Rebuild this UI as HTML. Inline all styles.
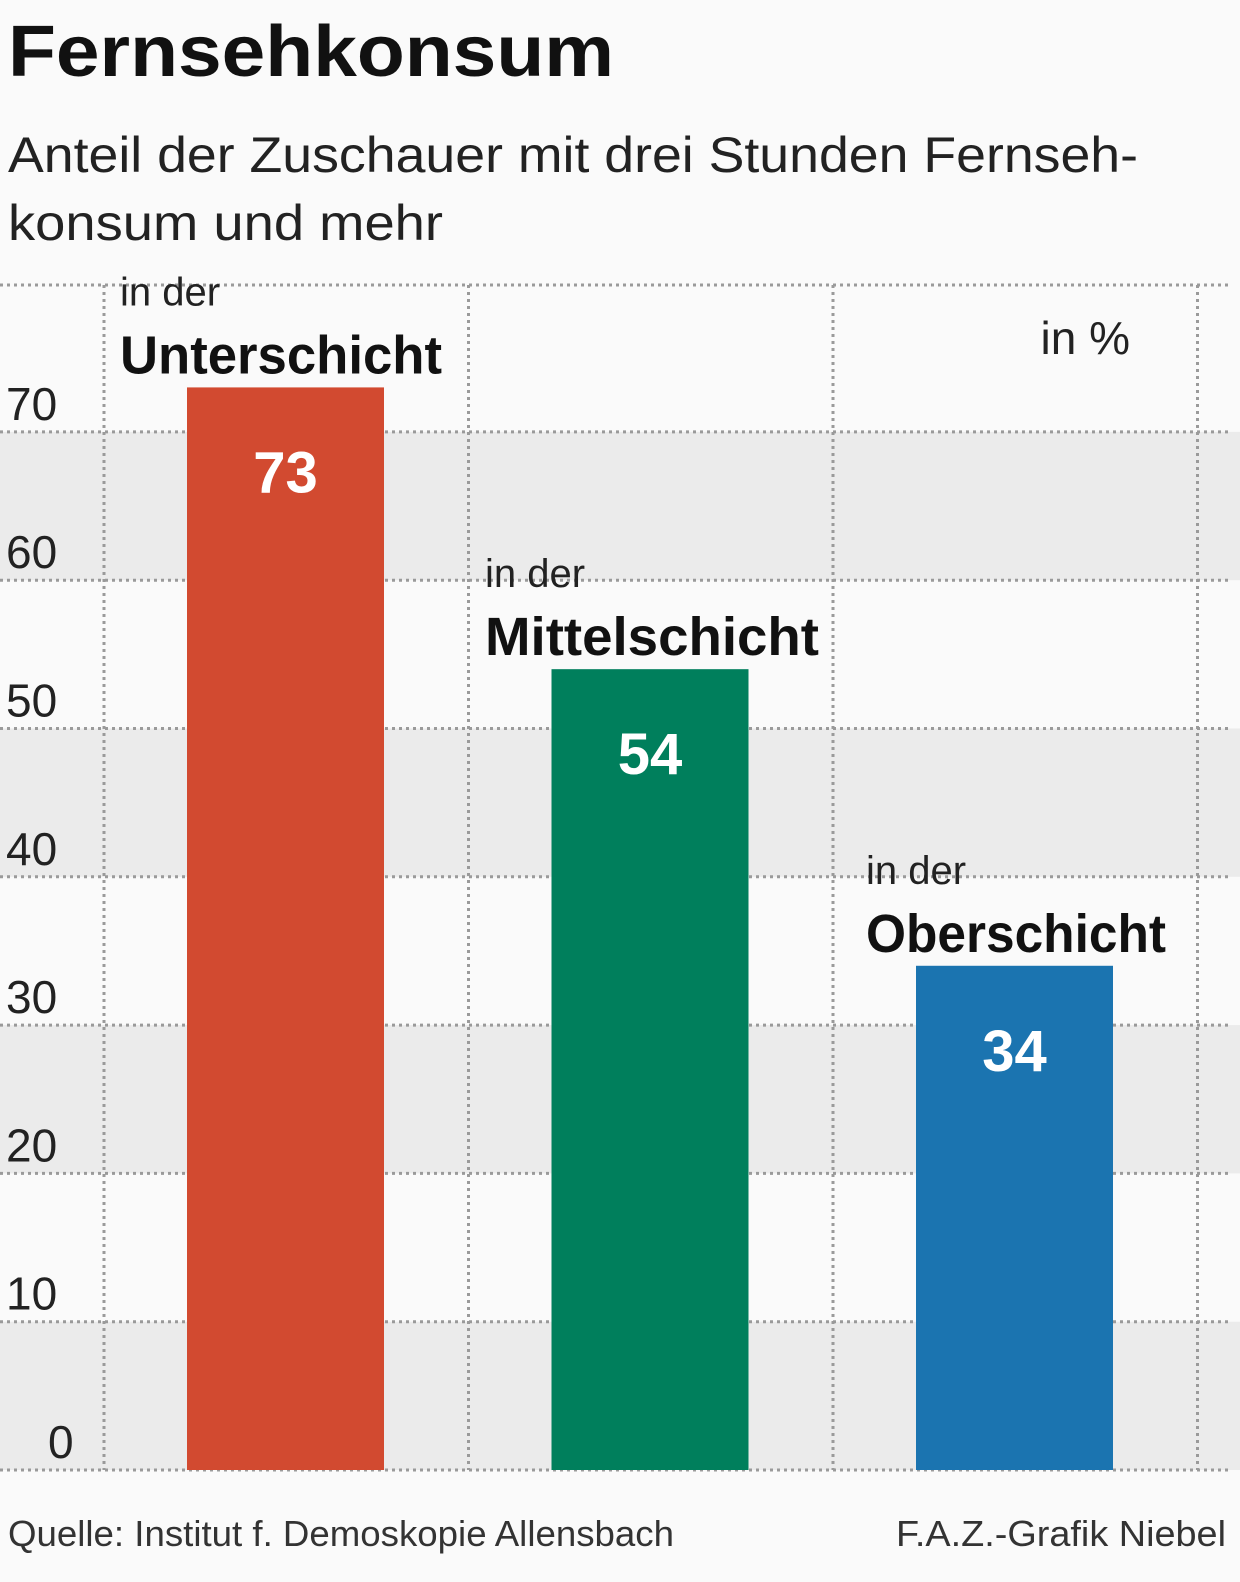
<!DOCTYPE html>
<html><head><meta charset="utf-8"><style>
body{margin:0;background:#fafafa;width:1240px;height:1577px;overflow:hidden;font-family:"Liberation Sans",sans-serif;}
</style></head><body>
<svg width="1240" height="1577" id="svg">
<text x="8" y="76" font-size="72" font-weight="bold" fill="#111" textLength="606" lengthAdjust="spacingAndGlyphs">Fernsehkonsum</text>
<text x="8" y="172" font-size="50" fill="#222" textLength="1130" lengthAdjust="spacingAndGlyphs">Anteil der Zuschauer mit drei Stunden Fernseh-</text>
<text x="8" y="240" font-size="50" fill="#222" textLength="435" lengthAdjust="spacingAndGlyphs">konsum und mehr</text>
<text x="1130" y="354" font-size="46" fill="#222" text-anchor="end">in %</text>
<g id="bands"></g><g id="grid"></g><g id="bars"></g>
<text x="8" y="1546" font-size="36" fill="#333" textLength="666" lengthAdjust="spacingAndGlyphs">Quelle: Institut f. Demoskopie Allensbach</text>
<text x="1226" y="1546" font-size="36" fill="#333" text-anchor="end" textLength="330" lengthAdjust="spacingAndGlyphs">F.A.Z.-Grafik Niebel</text>
</svg>
<script>
const categories=["Unterschicht","Mittelschicht","Oberschicht"];
const values=[73,54,34];
const colors=["#d24a30","#007f5c","#1b74b0"];
const yTicks=[0,10,20,30,40,50,60,70];
const NS="http://www.w3.org/2000/svg";
const y0=1470,pxPer=14.83;
const y=v=>y0-v*pxPer;
const colW=364.5,colX0=104;
function mk(t,a,p){const e=document.createElementNS(NS,t);for(const k in a)e.setAttribute(k,a[k]);p.appendChild(e);return e;}
const bands=document.getElementById('bands'),grid=document.getElementById('grid'),bars=document.getElementById('bars');
yTicks.forEach((t,i)=>{
 if(i<yTicks.length-1&&i%2===0){const r=mk('rect',{x:0,y:y(t+10),width:1240,height:y(t)-y(t+10),fill:'#ebebeb'},bands);
 
 }
 const l=mk('line',{x1:0,x2:1230,y1:y(t),y2:y(t),stroke:'#9a9a9a','stroke-width':3,'stroke-dasharray':'3 4'},grid);
 
 
 const tx=mk('text',{x:t===0?48:6,y:y(t)-12,'font-size':46,fill:'#222'},grid);tx.textContent=t;
 
 
});
mk('line',{x1:0,x2:1230,y1:285,y2:285,stroke:'#9a9a9a','stroke-width':3,'stroke-dasharray':'3 4'},grid);
for(let i=0;i<4;i++){const l=mk('line',{x1:colX0+i*colW,x2:colX0+i*colW,y1:285,y2:1470,stroke:'#9a9a9a','stroke-width':3,'stroke-dasharray':'3 4'},grid);
 
 }
categories.forEach((c,i)=>{
 const bx=187+i*colW,bw=197;
 const r=mk('rect',{x:bx,y:y(values[i]),width:bw,height:y(0)-y(values[i]),fill:colors[i]},bars);
 
 
 const v=mk('text',{x:bx+bw/2,y:y(values[i])+105,'font-size':58,'font-weight':'bold',fill:'#fff','text-anchor':'middle'},bars);v.textContent=values[i];
 
 
 const lx=[120,485,866][i];
 const a=mk('text',{x:lx,y:y(values[i])-82,'font-size':40,fill:'#222'},bars);a.textContent='in der';
 
 
 const b=mk('text',{x:lx,y:y(values[i])-14,'font-size':54,'font-weight':'bold',fill:'#111',textLength:[322,334,300][i],lengthAdjust:'spacingAndGlyphs'},bars);b.textContent=c;
 
 
});
</script>
</body></html>
